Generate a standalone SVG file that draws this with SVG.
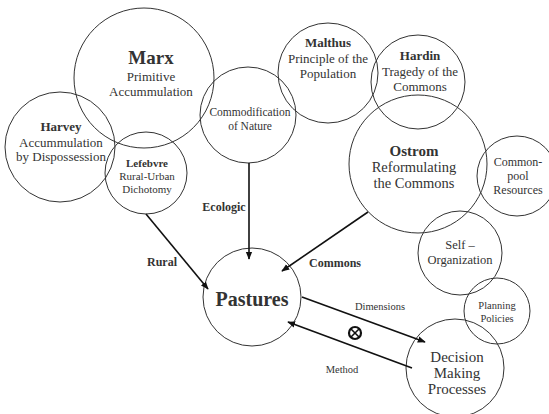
<svg xmlns="http://www.w3.org/2000/svg" width="549" height="414" viewBox="0 0 549 414">
<defs>
<marker id="ah" viewBox="0 0 10 10" refX="9" refY="5" markerWidth="5" markerHeight="5" orient="auto" markerUnits="strokeWidth">
<path d="M0,1 L10,5 L0,9 z" fill="#111"/>
</marker>
<style>
.c{fill:none;stroke:#333;stroke-width:1}
text{fill:#333;text-anchor:middle}
.b{font-weight:bold}
.e{stroke:#111;stroke-width:1.6;fill:none;marker-end:url(#ah)}
</style>
</defs>
<rect width="549" height="414" fill="#fff"/>
<g font-family="'Liberation Serif', 'Times New Roman', serif">
<g id="marx"><circle class="c" cx="144" cy="78" r="70"/>
<text class="b" x="151" y="64" font-size="19">Marx</text>
<text x="151" y="81" font-size="13">Primitive</text>
<text x="151" y="96" font-size="13">Accummulation</text></g>
<g id="harvey"><circle class="c" cx="60" cy="147" r="55"/>
<text class="b" x="61" y="131" font-size="13">Harvey</text>
<text x="61" y="147" font-size="13">Accummulation</text>
<text x="61" y="161" font-size="13">by Dispossession</text></g>
<g id="lefebvre"><circle class="c" cx="146" cy="173" r="41"/>
<text class="b" x="147" y="167" font-size="11">Lefebvre</text>
<text x="147" y="180" font-size="11">Rural-Urban</text>
<text x="147" y="193" font-size="11">Dichotomy</text></g>
<g id="commodification"><circle class="c" cx="248" cy="115" r="48"/>
<text x="250" y="116" font-size="11.5">Commodification</text>
<text x="250" y="130" font-size="11.5">of Nature</text></g>
<g id="malthus"><circle class="c" cx="328" cy="73" r="50"/>
<text class="b" x="328" y="47" font-size="13">Malthus</text>
<text x="328" y="63" font-size="13">Principle of the</text>
<text x="328" y="78" font-size="13">Population</text></g>
<g id="hardin"><circle class="c" cx="418" cy="82" r="47"/>
<text class="b" x="420" y="60" font-size="13">Hardin</text>
<text x="420" y="76" font-size="13">Tragedy of the</text>
<text x="420" y="91" font-size="13">Commons</text></g>
<g id="ostrom"><circle class="c" cx="418" cy="164" r="69"/>
<text class="b" x="414" y="156" font-size="15">Ostrom</text>
<text x="414" y="172" font-size="14.5">Reformulating</text>
<text x="414" y="188" font-size="14.5">the Commons</text></g>
<g id="commonpool"><circle class="c" cx="517" cy="176" r="40"/>
<text x="518" y="166" font-size="12">Common-</text>
<text x="518" y="180" font-size="12">pool</text>
<text x="518" y="194" font-size="12">Resources</text></g>
<g id="selforg"><circle class="c" cx="460" cy="253" r="42"/>
<text x="460" y="249" font-size="12.5">Self –</text>
<text x="460" y="264" font-size="12.5">Organization</text></g>
<g id="planning"><circle class="c" cx="497" cy="311" r="33"/>
<text x="497" y="309" font-size="10.5">Planning</text>
<text x="497" y="322" font-size="10.5">Policies</text></g>
<g id="decision"><circle class="c" cx="455" cy="368" r="49"/>
<text x="457" y="362" font-size="15">Decision</text>
<text x="457" y="378" font-size="15">Making</text>
<text x="457" y="394" font-size="15">Processes</text></g>
<g id="pastures"><circle class="c" cx="252" cy="297" r="49"/>
<text class="b" x="252" y="306" font-size="20">Pastures</text></g>
<g id="connectors">
<line class="e" x1="146" y1="214" x2="208" y2="289"/>
<line class="e" x1="249" y1="163" x2="249" y2="259"/>
<line class="e" x1="368" y1="212" x2="282" y2="271"/>
<line class="e" x1="302" y1="297" x2="425" y2="342"/>
<line class="e" x1="412" y1="368" x2="288" y2="322"/>
<text class="b" x="162" y="266" font-size="12">Rural</text>
<text class="b" x="224" y="211" font-size="12">Ecologic</text>
<text class="b" x="335" y="267" font-size="12">Commons</text>
<text x="380" y="310" font-size="10.5">Dimensions</text>
<text x="342" y="373" font-size="10.5">Method</text>
<g stroke="#111" fill="none">
<circle cx="355" cy="333" r="6" stroke-width="2.2"/>
<line x1="351" y1="329" x2="359" y2="337" stroke-width="1.6"/>
<line x1="359" y1="329" x2="351" y2="337" stroke-width="1.6"/>
</g>
</g>
</g>
</svg>
